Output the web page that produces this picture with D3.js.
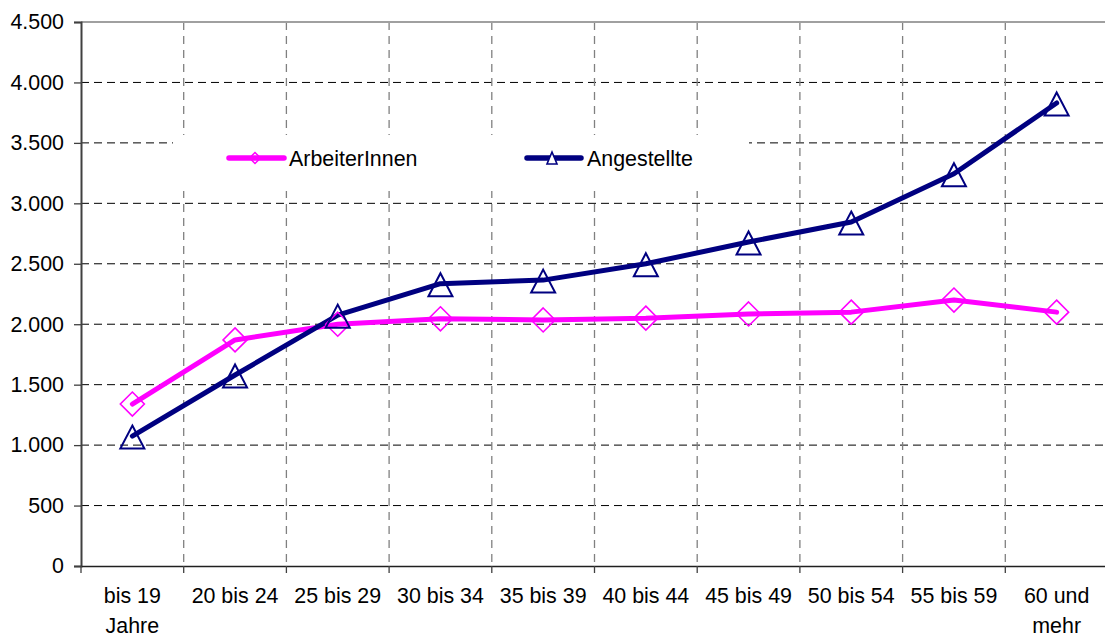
<!DOCTYPE html>
<html><head><meta charset="utf-8">
<script src="https://cdn.jsdelivr.net/npm/d3@7"></script>
<style>
html,body{margin:0;padding:0;background:#fff;}
svg{display:block;font-family:"Liberation Sans",Arial,sans-serif;}
</style></head>
<body><svg id="c" width="1105" height="637"></svg>
<script>
const categories = ["bis 19 Jahre","20 bis 24","25 bis 29","30 bis 34","35 bis 39","40 bis 44","45 bis 49","50 bis 54","55 bis 59","60 und mehr"];
const categoryLabels = [["bis 19","Jahre"],["20 bis 24"],["25 bis 29"],["30 bis 34"],["35 bis 39"],["40 bis 44"],["45 bis 49"],["50 bis 54"],["55 bis 59"],["60 und","mehr"]];
const arbeiterInnen = [1340, 1870, 2000, 2045, 2035, 2050, 2085, 2100, 2200, 2100];
const angestellte   = [1075, 1580, 2075, 2335, 2365, 2500, 2680, 2845, 3245, 3830];
const yTicks = [0, 500, 1000, 1500, 2000, 2500, 3000, 3500, 4000, 4500];
const seriesNames = ["ArbeiterInnen", "Angestellte"];

(function () {
const FS = 21.4;
const svg = d3.select("#c");
const pL = 81, pR = 1108, pT = 22, pB = 566;
const x = d3.scaleBand().domain(categories).range([pL, pR]).padding(0);
const y = d3.scaleLinear().domain([0, 4500]).range([pB, pT]);
const de = d3.formatLocale({decimal: ",", thousands: ".", grouping: [3], currency: ["", "€"]});
const fmt = de.format(",d");

// horizontal grid
svg.append("g").selectAll("line").data(yTicks.filter(v => v > 0 && v < 4500)).join("line")
  .attr("x1", pL).attr("x2", 1105).attr("y1", d => y(d)).attr("y2", d => y(d))
  .attr("stroke", "#000").attr("stroke-width", 1).attr("stroke-dasharray", "8,5");
// vertical grid
svg.append("g").selectAll("line").data(categories.slice(1)).join("line")
  .attr("x1", d => x(d)).attr("x2", d => x(d)).attr("y1", pT).attr("y2", pB)
  .attr("stroke", "#808080").attr("stroke-width", 1.3).attr("stroke-dasharray", "8,6");
// top border
svg.append("line").attr("x1", pL).attr("x2", 1105).attr("y1", pT).attr("y2", pT)
  .attr("stroke", "#a0a0a0").attr("stroke-width", 2);

// legend background
svg.append("rect").attr("x", 173).attr("y", 135).attr("width", 576).attr("height", 56).attr("fill", "#fff");

// y axis
const yAxis = svg.append("g").attr("transform", `translate(${pL},0)`)
  .call(d3.axisLeft(y).tickValues(yTicks).tickFormat(fmt).tickSize(7).tickPadding(10));
yAxis.select(".domain").attr("stroke", "#404040").attr("stroke-width", 2);
yAxis.selectAll(".tick line").attr("stroke", "#404040").attr("stroke-width", 1.3);
yAxis.selectAll(".tick text").attr("font-size", FS).attr("fill", "#000")
  .attr("font-family", "Liberation Sans, Arial, sans-serif");

// x axis
const xAxis = svg.append("g").attr("transform", `translate(0,${pB})`)
  .call(d3.axisBottom(x).tickSize(0).tickFormat(() => ""));
xAxis.select(".domain").attr("stroke", "#202020").attr("stroke-width", 1.5);
xAxis.selectAll(".tick text").remove();
svg.append("g").selectAll("line").data(categories).join("line")
  .attr("x1", d => x(d)).attr("x2", d => x(d)).attr("y1", pB).attr("y2", pB + 7)
  .attr("stroke", "#404040").attr("stroke-width", 1.3);
const xl = svg.append("g").selectAll("text").data(categories).join("text")
  .attr("x", d => x(d) + x.bandwidth() / 2).attr("y", 603)
  .attr("text-anchor", "middle").attr("font-size", FS).attr("fill", "#000");
xl.each(function(d, i) {
  const t = d3.select(this);
  categoryLabels[i].forEach((ln, j) => {
    t.append("tspan").attr("x", x(d) + x.bandwidth() / 2).attr("dy", j === 0 ? 0 : 30).text(ln);
  });
});

const cx = d => x(d) + x.bandwidth() / 2;
const line = d3.line().x(d => cx(d.c)).y(d => y(d.v));
const sArb = categories.map((c, i) => ({c, v: arbeiterInnen[i]}));
const sAng = categories.map((c, i) => ({c, v: angestellte[i]}));

function diamond(g, px, py, r, sw) {
  g.append("path").attr("d", `M${px},${py - r}L${px + r},${py}L${px},${py + r}L${px - r},${py}Z`)
    .attr("fill", "none").attr("stroke", "#ff00ff").attr("stroke-width", sw);
}
function triangle(g, px, py, w, h, sw, fill) {
  g.append("path").attr("d", `M${px},${py - h / 2}L${px + w / 2},${py + h / 2}L${px - w / 2},${py + h / 2}Z`)
    .attr("fill", fill || "none").attr("stroke", "#000080").attr("stroke-width", sw);
}

svg.append("path").datum(sArb).attr("d", line).attr("fill", "none")
  .attr("stroke", "#ff00ff").attr("stroke-width", 5).attr("stroke-linecap", "round").attr("stroke-linejoin", "round");
svg.append("path").datum(sAng).attr("d", line).attr("fill", "none")
  .attr("stroke", "#000080").attr("stroke-width", 5).attr("stroke-linecap", "round").attr("stroke-linejoin", "round");

const mk = svg.append("g");
sArb.forEach(d => diamond(mk, cx(d.c), y(d.v), 12, 1.6));
sAng.forEach(d => triangle(mk, cx(d.c), y(d.v) + 1, 24, 23, 2));

// legend
const lg = svg.append("g");
lg.append("line").attr("x1", 229).attr("x2", 284).attr("y1", 158).attr("y2", 158)
  .attr("stroke", "#ff00ff").attr("stroke-width", 5.5).attr("stroke-linecap", "round");
diamond(lg, 255, 158, 5.5, 1.5);
lg.append("text").attr("x", 289).attr("y", 166).attr("font-size", FS).text(seriesNames[0]);
lg.append("line").attr("x1", 527).attr("x2", 581).attr("y1", 158).attr("y2", 158)
  .attr("stroke", "#000080").attr("stroke-width", 5.5).attr("stroke-linecap", "round");
triangle(lg, 552, 158, 10, 12, 1.6, "#fff");
lg.append("text").attr("x", 587).attr("y", 166).attr("font-size", FS).text(seriesNames[1]);
})();
</script></body></html>
